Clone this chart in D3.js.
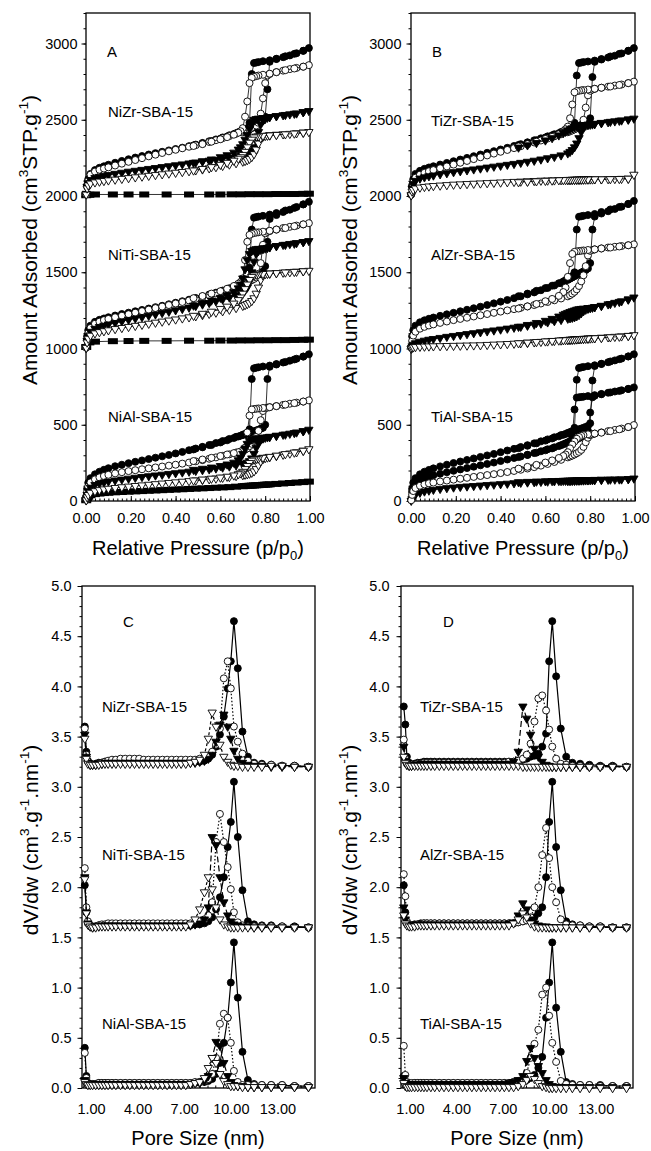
<!DOCTYPE html>
<html>
<head>
<meta charset="utf-8">
<script src="https://cdn.jsdelivr.net/npm/d3@7"></script>
<style>
    body { margin: 0; background: #fff; }
    text { font-family: "Liberation Sans", Arial, sans-serif; fill: #000; }
</style>
</head>
<body>
<div id="chart"></div>
<script>

// ---------- isotherm grids (relative pressure p/p0) ----------
const pAds = [0.001, 0.005, 0.01, 0.02, 0.04, 0.06, 0.08, 0.10, 0.13, 0.16, 0.19, 0.22, 0.25, 0.28, 0.31, 0.34, 0.37, 0.40,
    0.43, 0.46, 0.49, 0.52, 0.55, 0.58, 0.61, 0.64, 0.67,
    0.70, 0.71, 0.72, 0.73, 0.74, 0.75, 0.76, 0.77, 0.78, 0.79, 0.80, 0.81, 0.82,
    0.85, 0.88, 0.91, 0.94, 0.97, 0.995];
const pDes = [0.97, 0.93, 0.89, 0.85, 0.82, 0.79, 0.77, 0.76, 0.75, 0.74, 0.73, 0.72, 0.71, 0.70, 0.69, 0.68, 0.66, 0.63,
    0.60, 0.56, 0.52, 0.48];
const pSq = [0.001, 0.015, 0.04, 0.12, 0.19, 0.26, 0.36, 0.46, 0.55, 0.60, 0.65, 0.69, 0.73, 0.77, 0.81, 0.85, 0.89, 0.93, 0.97, 0.995];

const isoXTicks = [0, 0.2, 0.4, 0.6, 0.8, 1.0];
const isoYTicks = [0, 500, 1000, 1500, 2000, 2500, 3000];

// ---------- panel A (amount adsorbed, stacked) ----------
// NiZr-SBA-15
const nizrFcAds = [2010, 2070, 2110, 2145, 2170, 2185, 2195, 2205, 2218, 2230, 2241, 2252, 2262, 2272, 2281, 2290, 2299, 2308,
    2317, 2327, 2337, 2348, 2359, 2371, 2384, 2398, 2412,
    2428, 2434, 2440, 2447, 2454, 2461, 2468, 2476, 2484, 2494, 2520, 2700, 2880,
    2898, 2910, 2922, 2936, 2952, 2970];
const nizrFcDes = [2952, 2932, 2916, 2900, 2890, 2884, 2878, 2875, 2872, 2800, 2480, 2445, 2438, 2430, 2424, 2418, 2406, 2390,
    2376, 2360, 2345, 2332];
const nizrOcAds = [2010, 2060, 2100, 2140, 2160, 2172, 2180, 2188, 2200, 2212, 2224, 2236, 2248, 2260, 2271, 2282, 2293, 2303,
    2313, 2323, 2333, 2343, 2354, 2366, 2379, 2393, 2408,
    2418, 2424, 2430, 2437, 2444, 2452, 2462, 2480, 2540, 2640, 2740, 2790, 2800,
    2812, 2822, 2832, 2840, 2848, 2858];
const nizrOcDes = [2848, 2836, 2825, 2812, 2802, 2795, 2790, 2786, 2782, 2775, 2740, 2620, 2520, 2445, 2425, 2415, 2402, 2386,
    2372, 2356, 2340, 2328];
const nizrFtAds = [2015, 2060, 2085, 2105, 2118, 2126, 2132, 2138, 2146, 2153, 2160, 2166, 2172, 2178, 2184, 2190, 2196, 2202,
    2208, 2214, 2220, 2226, 2232, 2238, 2245, 2253, 2262,
    2272, 2276, 2282, 2290, 2300, 2320, 2360, 2420, 2470, 2500, 2510, 2514, 2518,
    2524, 2530, 2536, 2542, 2550, 2558];
const nizrFtDes = [2550, 2540, 2532, 2524, 2518, 2512, 2508, 2505, 2500, 2470, 2440, 2400, 2370, 2340, 2320, 2305, 2285, 2268,
    2255, 2240, 2228, 2218];
const nizrOtAds = [2010, 2050, 2070, 2082, 2090, 2095, 2099, 2103, 2108, 2113, 2118, 2123, 2128, 2133, 2138, 2143, 2148, 2153,
    2158, 2163, 2169, 2175, 2182, 2190, 2198, 2207, 2216,
    2226, 2230, 2236, 2244, 2256, 2275, 2305, 2345, 2380, 2390, 2394, 2396, 2398,
    2402, 2405, 2408, 2412, 2416, 2420];
const nizrOtDes = [2416, 2410, 2405, 2401, 2398, 2395, 2392, 2390, 2385, 2370, 2350, 2320, 2290, 2270, 2255, 2245, 2232, 2218,
    2205, 2190, 2178, 2168];
const nizrFs = [2005, 2008, 2010, 2010, 2010, 2010, 2010, 2010, 2010, 2010, 2011, 2011, 2012, 2012, 2012, 2013, 2013, 2013, 2014, 2015];

// NiTi-SBA-15
const nitiFcAds = [1010, 1080, 1120, 1150, 1175, 1188, 1197, 1205, 1216, 1226, 1235, 1244, 1253, 1262, 1271, 1280, 1290, 1300,
    1310, 1320, 1331, 1342, 1354, 1366, 1380, 1395, 1412,
    1430, 1436, 1442, 1449, 1456, 1463, 1471, 1480, 1490, 1505, 1540, 1700, 1850,
    1875, 1895, 1910, 1928, 1945, 1962];
const nitiFcDes = [1945, 1922, 1905, 1888, 1878, 1870, 1865, 1862, 1858, 1780, 1530, 1450, 1440, 1432, 1425, 1418, 1405, 1388,
    1372, 1356, 1340, 1325];
const nitiOcAds = [1005, 1060, 1100, 1135, 1162, 1176, 1186, 1194, 1205, 1215, 1225, 1235, 1245, 1255, 1265, 1275, 1285, 1295,
    1305, 1315, 1326, 1337, 1349, 1361, 1375, 1390, 1406,
    1420, 1426, 1432, 1440, 1448, 1456, 1466, 1490, 1560, 1680, 1755, 1765, 1770,
    1780, 1790, 1798, 1806, 1814, 1822];
const nitiOcDes = [1814, 1802, 1790, 1780, 1772, 1766, 1762, 1760, 1757, 1752, 1745, 1700, 1580, 1460, 1435, 1425, 1410, 1392,
    1376, 1360, 1344, 1330];
const nitiFtAds = [1005, 1050, 1085, 1110, 1130, 1142, 1150, 1158, 1168, 1178, 1188, 1197, 1206, 1215, 1224, 1233, 1242, 1251,
    1260, 1269, 1279, 1289, 1299, 1310, 1322, 1335, 1350,
    1368, 1380, 1400, 1440, 1500, 1570, 1620, 1640, 1648, 1652, 1656, 1660, 1664,
    1672, 1680, 1686, 1692, 1698, 1705];
const nitiFtDes = [1698, 1688, 1680, 1672, 1664, 1658, 1654, 1652, 1648, 1640, 1620, 1580, 1520, 1460, 1420, 1395, 1370, 1350,
    1333, 1315, 1298, 1282];
const nitiOtAds = [1005, 1040, 1065, 1085, 1100, 1108, 1114, 1120, 1128, 1135, 1142, 1149, 1156, 1163, 1170, 1177, 1184, 1191,
    1198, 1205, 1212, 1220, 1228, 1236, 1245, 1255, 1266,
    1280, 1285, 1292, 1300, 1312, 1330, 1360, 1400, 1450, 1480, 1488, 1490, 1492,
    1495, 1498, 1501, 1504, 1507, 1510];
const nitiOtDes = [1507, 1503, 1499, 1495, 1492, 1489, 1486, 1484, 1480, 1470, 1450, 1420, 1390, 1360, 1335, 1318, 1295, 1275,
    1260, 1242, 1228, 1215];
const nitiFs = [1010, 1040, 1045, 1048, 1049, 1050, 1050, 1051, 1051, 1052, 1052, 1053, 1053, 1054, 1054, 1055, 1055, 1056, 1057, 1058];

// NiAl-SBA-15
const nialFcAds = [10, 80, 120, 150, 175, 192, 205, 215, 228, 238, 248, 257, 266, 275, 284, 293, 302, 312,
    322, 333, 344, 355, 367, 380, 393, 407, 421,
    433, 438, 443, 448, 453, 458, 463, 468, 474, 480, 500, 800, 880,
    895, 908, 920, 933, 947, 962];
const nialFcDes = [947, 928, 912, 898, 888, 882, 877, 874, 870, 800, 470, 445, 440, 434, 428, 423, 413, 398, 384, 367, 352, 338];
const nialOcAds = [10, 60, 95, 122, 142, 155, 164, 172, 181, 189, 196, 202, 208, 214, 220, 226, 232, 238,
    245, 252, 260, 268, 277, 286, 296, 306, 318,
    330, 336, 345, 360, 375, 395, 420, 460, 530, 590, 608, 612, 615,
    622, 630, 638, 645, 652, 660];
const nialOcDes = [652, 642, 632, 622, 615, 610, 607, 605, 603, 600, 560, 450, 350, 330, 325, 320, 314, 305, 295, 283, 272, 262];
const nialFtAds = [5, 40, 65, 88, 105, 115, 122, 128, 135, 141, 147, 153, 158, 163, 168, 173, 178, 183,
    188, 193, 198, 203, 208, 214, 220, 227, 234,
    242, 246, 252, 262, 280, 310, 350, 380, 400, 410, 415, 418, 421,
    428, 435, 442, 450, 458, 468];
const nialFtDes = [458, 446, 436, 428, 421, 416, 412, 410, 408, 404, 395, 375, 345, 310, 285, 268, 252, 240, 230, 220, 212, 205];
const nialOtAds = [5, 25, 40, 55, 65, 72, 77, 81, 86, 91, 95, 99, 103, 107, 111, 115, 119, 123,
    127, 131, 135, 139, 143, 148, 153, 158, 164,
    170, 173, 176, 180, 186, 195, 210, 235, 260, 275, 282, 286, 289,
    296, 304, 312, 320, 330, 340];
const nialOtDes = [330, 318, 308, 298, 290, 284, 280, 276, 272, 265, 250, 230, 210, 192, 182, 176, 168, 160, 154, 147, 141, 135];
const nialFs = [5, 18, 28, 38, 45, 49, 52, 54, 57, 59, 61, 63, 65, 67, 69, 71, 73, 75,
    77, 79, 81, 83, 85, 87, 89, 91, 94,
    97, 98, 99, 100, 101, 102, 103, 104, 105, 106, 107, 108, 109,
    112, 115, 118, 121, 124, 127];

// ---------- panel B ----------
// TiZr-SBA-15
const tizrFcAds = [2010, 2070, 2110, 2145, 2165, 2178, 2187, 2195, 2206, 2217, 2228, 2239, 2250, 2261, 2272, 2283, 2294, 2305,
    2316, 2328, 2340, 2352, 2365, 2378, 2391, 2405, 2420,
    2432, 2437, 2442, 2448, 2454, 2460, 2466, 2472, 2478, 2485, 2510, 2780, 2880,
    2895, 2908, 2920, 2935, 2952, 2970];
const tizrFcDes = [2952, 2932, 2915, 2898, 2888, 2882, 2878, 2875, 2872, 2790, 2480, 2450, 2443, 2436, 2430, 2424, 2412, 2398,
    2384, 2366, 2350, 2335];
const tizrOcAds = [2010, 2055, 2090, 2120, 2140, 2152, 2162, 2170, 2182, 2194, 2206, 2218, 2230, 2242, 2254, 2266, 2278, 2290,
    2302, 2314, 2326, 2338, 2351, 2364, 2377, 2391, 2405,
    2418, 2424, 2430, 2437, 2444, 2452, 2465, 2500, 2580, 2660, 2690, 2698, 2703,
    2710, 2717, 2724, 2731, 2740, 2750];
const tizrOcDes = [2740, 2728, 2718, 2710, 2703, 2698, 2695, 2693, 2690, 2688, 2680, 2600, 2510, 2455, 2438, 2425, 2405, 2388,
    2374, 2356, 2340, 2325];
const tizrFtAds = [2005, 2050, 2080, 2100, 2115, 2123, 2130, 2135, 2143, 2150, 2157, 2163, 2169, 2175, 2181, 2187, 2193, 2199,
    2205, 2211, 2218, 2225, 2232, 2240, 2248, 2257, 2267,
    2280, 2290, 2302, 2320, 2345, 2380, 2420, 2450, 2462, 2466, 2468, 2470, 2472,
    2478, 2484, 2490, 2496, 2502, 2508];
const tizrFtDes = [2502, 2494, 2487, 2480, 2474, 2469, 2466, 2464, 2462, 2458, 2452, 2445, 2438, 2430, 2422, 2414, 2398, 2380,
    2365, 2348, 2333, 2318];
const tizrOtAds = [2005, 2030, 2040, 2050, 2056, 2060, 2063, 2066, 2069, 2072, 2075, 2077, 2079, 2081, 2083, 2085, 2087, 2089,
    2091, 2093, 2095, 2097, 2099, 2101, 2102, 2103, 2104,
    2105, 2105, 2106, 2106, 2107, 2107, 2108, 2108, 2108, 2109, 2109, 2109, 2110,
    2110, 2111, 2112, 2113, 2114, 2140];
const tizrOtDes = [2114, 2112, 2111, 2110, 2110, 2109, 2109, 2108, 2108, 2108, 2107, 2107, 2106, 2106, 2105, 2105, 2104, 2102,
    2100, 2097, 2094, 2091];

// AlZr-SBA-15
const alzrFcAds = [1010, 1080, 1120, 1150, 1172, 1185, 1195, 1203, 1214, 1224, 1234, 1244, 1254, 1264, 1274, 1285, 1296, 1307,
    1318, 1330, 1342, 1355, 1368, 1382, 1397, 1413, 1430,
    1450, 1458, 1466, 1474, 1482, 1490, 1498, 1506, 1514, 1525, 1560, 1780, 1865,
    1885, 1900, 1915, 1930, 1948, 1968];
const alzrFcDes = [1948, 1928, 1912, 1895, 1882, 1875, 1870, 1867, 1864, 1780, 1500, 1475, 1465, 1455, 1448, 1440, 1428, 1412,
    1396, 1378, 1360, 1343];
const alzrOcAds = [1005, 1050, 1085, 1110, 1130, 1142, 1151, 1158, 1168, 1177, 1186, 1194, 1202, 1210, 1218, 1226, 1234, 1242,
    1250, 1258, 1267, 1276, 1285, 1295, 1305, 1316, 1328,
    1342, 1350, 1360, 1372, 1388, 1410, 1440, 1480, 1540, 1610, 1640, 1646, 1650,
    1656, 1662, 1667, 1672, 1677, 1683];
const alzrOcDes = [1677, 1669, 1662, 1656, 1650, 1646, 1643, 1641, 1639, 1637, 1634, 1620, 1560, 1470, 1400, 1370, 1345, 1325,
    1310, 1292, 1276, 1262];
const alzrFtAds = [1000, 1015, 1025, 1035, 1045, 1052, 1058, 1063, 1070, 1077, 1083, 1089, 1095, 1101, 1107, 1113, 1119, 1125,
    1131, 1137, 1143, 1150, 1157, 1164, 1172, 1180, 1188,
    1196, 1199, 1202, 1206, 1212, 1220, 1232, 1245, 1255, 1261, 1265, 1268, 1271,
    1280, 1290, 1300, 1310, 1322, 1335];
const alzrFtDes = [1322, 1306, 1292, 1280, 1272, 1266, 1262, 1260, 1258, 1255, 1250, 1245, 1240, 1234, 1228, 1222, 1210, 1195,
    1182, 1168, 1155, 1143];
const alzrOtAds = [1000, 1005, 1008, 1010, 1012, 1013, 1014, 1015, 1016, 1017, 1018, 1019, 1020, 1021, 1022, 1024, 1026, 1028,
    1030, 1032, 1035, 1038, 1041, 1044, 1047, 1050, 1053,
    1056, 1057, 1058, 1059, 1060, 1061, 1062, 1063, 1064, 1065, 1066, 1067, 1068,
    1071, 1074, 1077, 1080, 1083, 1088];
const alzrOtDes = [1083, 1078, 1074, 1070, 1068, 1066, 1064, 1063, 1062, 1061, 1060, 1059, 1058, 1057, 1056, 1055, 1053, 1050,
    1047, 1043, 1039, 1035];

// TiAl-SBA-15
const tialFcAds = [10, 80, 120, 150, 175, 192, 204, 214, 227, 238, 249, 259, 269, 279, 289, 299, 309, 320,
    331, 342, 354, 366, 378, 391, 404, 418, 432,
    445, 450, 455, 460, 465, 470, 475, 480, 486, 492, 510, 790, 885,
    898, 910, 922, 934, 948, 962];
const tialFcDes = [948, 930, 915, 900, 890, 884, 879, 876, 872, 795, 480, 458, 452, 446, 440, 434, 424, 410, 396, 378, 362, 346];
const tialF2Ads = [10, 60, 95, 120, 140, 152, 161, 169, 179, 189, 198, 207, 216, 225, 234, 243, 252, 262,
    272, 282, 292, 303, 314, 326, 339, 352, 366,
    380, 386, 392, 398, 405, 412, 420, 428, 438, 460, 580, 680, 690,
    700, 710, 718, 726, 735, 745];
const tialF2Des = [735, 722, 712, 702, 694, 688, 684, 682, 680, 678, 600, 420, 392, 385, 378, 372, 360, 345, 332, 317, 302, 288];
const tialOcAds = [5, 40, 65, 85, 100, 109, 116, 121, 128, 134, 140, 146, 152, 158, 164, 170, 176, 183,
    190, 197, 205, 213, 222, 232, 243, 256, 270,
    286, 292, 298, 305, 313, 322, 335, 355, 385, 415, 432, 438, 442,
    450, 458, 466, 475, 485, 498];
const tialOcDes = [485, 470, 458, 448, 442, 437, 432, 428, 420, 408, 390, 370, 345, 320, 305, 295, 282, 266, 252, 237, 224, 212];
const tialFtAds = [2, 15, 28, 42, 55, 63, 69, 74, 80, 85, 89, 93, 96, 99, 102, 105, 108, 111,
    114, 117, 120, 122, 124, 126, 128, 130, 131,
    132, 132, 133, 133, 134, 134, 135, 135, 136, 136, 137, 137, 138,
    139, 140, 141, 142, 144, 148];
const tialFtDes = [144, 142, 141, 140, 139, 138, 137, 137, 136, 136, 135, 135, 134, 134, 133, 133, 132, 131, 130, 128, 126, 124];

// ---------- pore size distributions (dV/dw, stacked) ----------
const wGrid = [0.6, 0.7, 0.8, 0.95, 1.1, 1.3, 1.5, 1.7, 1.9, 2.1,
    2.35, 2.6, 2.9, 3.2, 3.5, 3.8, 4.1, 4.4, 4.7, 5.0,
    5.3, 5.6, 5.9, 6.2, 6.5, 6.8, 7.1, 7.4, 7.7, 8.0,
    8.3, 8.55, 8.8, 9.05, 9.3, 9.55, 9.8, 10.0, 10.2, 10.45,
    10.75, 11.1, 11.5, 12.0, 12.6, 13.3, 14.1, 15.0];
const psdXTicks = [1, 4, 7, 10, 13];
const psdYTicks = [0, 0.5, 1.0, 1.5, 2.0, 2.5, 3.0, 3.5, 4.0, 4.5, 5.0];

// panel C
const psdNizrFc = [3.60, 3.35, 3.26, 3.23, 3.22, 3.23, 3.24, 3.24, 3.25, 3.25,
    3.25, 3.25, 3.25, 3.25, 3.25, 3.25, 3.25, 3.25, 3.25, 3.25,
    3.25, 3.25, 3.25, 3.25, 3.25, 3.25, 3.25, 3.25, 3.25, 3.25,
    3.26, 3.28, 3.32, 3.40, 3.52, 3.70, 3.98, 4.25, 4.65, 4.18,
    3.55, 3.30, 3.24, 3.23, 3.22, 3.21, 3.21, 3.20];
const psdNizrOc = [3.58, 3.32, 3.25, 3.23, 3.22, 3.22, 3.23, 3.24, 3.25, 3.26,
    3.27, 3.27, 3.28, 3.28, 3.28, 3.28, 3.28, 3.27, 3.27, 3.27,
    3.27, 3.27, 3.27, 3.27, 3.27, 3.27, 3.27, 3.27, 3.27, 3.28,
    3.29, 3.31, 3.35, 3.42, 3.58, 4.08, 4.25, 3.98, 3.60, 3.45,
    3.33, 3.26, 3.23, 3.22, 3.22, 3.21, 3.21, 3.20];
const psdNizrFt = [3.52, 3.30, 3.24, 3.22, 3.22, 3.22, 3.23, 3.23, 3.24, 3.24,
    3.24, 3.24, 3.24, 3.24, 3.24, 3.24, 3.24, 3.24, 3.24, 3.24,
    3.24, 3.24, 3.24, 3.24, 3.24, 3.24, 3.24, 3.24, 3.24, 3.25,
    3.26, 3.28, 3.32, 3.45, 3.62, 3.72, 3.60, 3.48, 3.36, 3.28,
    3.24, 3.22, 3.21, 3.21, 3.20, 3.20, 3.20, 3.20];
const psdNizrOt = [3.48, 3.28, 3.23, 3.22, 3.22, 3.22, 3.22, 3.23, 3.23, 3.23,
    3.23, 3.23, 3.23, 3.23, 3.23, 3.23, 3.23, 3.23, 3.23, 3.23,
    3.23, 3.23, 3.23, 3.23, 3.23, 3.23, 3.23, 3.24, 3.25, 3.27,
    3.32, 3.48, 3.74, 3.60, 3.42, 3.30, 3.25, 3.22, 3.21, 3.21,
    3.20, 3.20, 3.20, 3.20, 3.21, 3.21, 3.20, 3.20];
const psdNitiFc = [2.02, 1.75, 1.64, 1.61, 1.60, 1.61, 1.62, 1.62, 1.62, 1.62,
    1.62, 1.62, 1.62, 1.62, 1.62, 1.62, 1.62, 1.62, 1.62, 1.62,
    1.62, 1.62, 1.62, 1.62, 1.62, 1.62, 1.62, 1.62, 1.63, 1.63,
    1.64, 1.66, 1.70, 1.78, 1.90, 2.10, 2.40, 2.65, 3.05, 2.50,
    1.97, 1.66, 1.63, 1.62, 1.62, 1.61, 1.61, 1.60];
const psdNitiOc = [2.19, 1.80, 1.66, 1.62, 1.61, 1.61, 1.62, 1.63, 1.63, 1.64,
    1.64, 1.64, 1.64, 1.64, 1.64, 1.64, 1.64, 1.64, 1.64, 1.64,
    1.64, 1.64, 1.64, 1.64, 1.64, 1.64, 1.64, 1.64, 1.65, 1.66,
    1.68, 1.72, 1.85, 2.45, 2.73, 2.45, 2.20, 1.98, 1.75, 1.65,
    1.62, 1.61, 1.61, 1.61, 1.61, 1.61, 1.60, 1.60];
const psdNitiFt = [2.10, 1.75, 1.64, 1.61, 1.60, 1.61, 1.61, 1.62, 1.62, 1.62,
    1.62, 1.62, 1.62, 1.62, 1.62, 1.62, 1.62, 1.62, 1.62, 1.62,
    1.62, 1.62, 1.62, 1.62, 1.62, 1.62, 1.62, 1.62, 1.63, 1.64,
    1.68, 1.80, 2.50, 2.42, 2.10, 1.85, 1.72, 1.66, 1.63, 1.62,
    1.61, 1.61, 1.60, 1.60, 1.60, 1.60, 1.60, 1.60];
const psdNitiOt = [2.08, 1.74, 1.63, 1.61, 1.60, 1.60, 1.61, 1.61, 1.61, 1.61,
    1.61, 1.61, 1.61, 1.61, 1.61, 1.61, 1.61, 1.61, 1.61, 1.61,
    1.61, 1.61, 1.61, 1.61, 1.61, 1.61, 1.61, 1.63, 1.68, 1.78,
    1.95, 2.10, 1.98, 1.80, 1.68, 1.63, 1.61, 1.60, 1.60, 1.60,
    1.60, 1.60, 1.60, 1.60, 1.60, 1.60, 1.60, 1.60];
const psdNialFc = [0.40, 0.12, 0.05, 0.04, 0.04, 0.04, 0.05, 0.05, 0.05, 0.05,
    0.05, 0.05, 0.05, 0.05, 0.05, 0.05, 0.05, 0.05, 0.05, 0.05,
    0.05, 0.05, 0.05, 0.05, 0.05, 0.05, 0.05, 0.05, 0.05, 0.06,
    0.06, 0.07, 0.09, 0.14, 0.25, 0.45, 0.70, 1.05, 1.45, 0.90,
    0.36, 0.08, 0.04, 0.03, 0.03, 0.03, 0.02, 0.02];
const psdNialOc = [0.35, 0.10, 0.05, 0.04, 0.04, 0.04, 0.05, 0.05, 0.05, 0.05,
    0.05, 0.05, 0.05, 0.05, 0.05, 0.05, 0.05, 0.05, 0.05, 0.05,
    0.05, 0.05, 0.05, 0.05, 0.05, 0.05, 0.05, 0.05, 0.06, 0.06,
    0.07, 0.09, 0.14, 0.30, 0.64, 0.74, 0.70, 0.45, 0.17, 0.06,
    0.03, 0.03, 0.03, 0.03, 0.03, 0.03, 0.02, 0.02];
const psdNialFt = [0.08, 0.05, 0.04, 0.04, 0.04, 0.04, 0.04, 0.04, 0.04, 0.04,
    0.04, 0.04, 0.04, 0.04, 0.04, 0.04, 0.04, 0.04, 0.04, 0.04,
    0.04, 0.04, 0.04, 0.04, 0.04, 0.04, 0.04, 0.04, 0.05, 0.05,
    0.07, 0.12, 0.30, 0.46, 0.42, 0.25, 0.12, 0.06, 0.03, 0.02,
    0.02, 0.01, 0.01, 0.01, 0.01, 0.01, 0.01, 0.01];
const psdNialOt = [0.06, 0.04, 0.03, 0.03, 0.03, 0.03, 0.03, 0.03, 0.03, 0.03,
    0.03, 0.03, 0.03, 0.03, 0.03, 0.03, 0.03, 0.03, 0.03, 0.03,
    0.03, 0.03, 0.03, 0.03, 0.03, 0.03, 0.03, 0.04, 0.05, 0.06,
    0.10, 0.20, 0.30, 0.25, 0.14, 0.07, 0.04, 0.02, 0.02, 0.02,
    0.01, 0.01, 0.01, 0.01, 0.01, 0.01, 0.01, 0.01];

// panel D
const psdTizrFc = [3.80, 3.62, 3.30, 3.24, 3.22, 3.23, 3.24, 3.24, 3.25, 3.25,
    3.25, 3.25, 3.25, 3.25, 3.25, 3.25, 3.25, 3.25, 3.25, 3.25,
    3.25, 3.25, 3.25, 3.25, 3.25, 3.25, 3.25, 3.25, 3.25, 3.26,
    3.27, 3.28, 3.30, 3.31, 3.33, 3.40, 3.53, 4.25, 4.65, 4.10,
    3.58, 3.30, 3.24, 3.23, 3.22, 3.21, 3.21, 3.20];
const psdTizrOc = [3.47, 3.28, 3.23, 3.22, 3.22, 3.22, 3.23, 3.23, 3.24, 3.24,
    3.24, 3.24, 3.24, 3.24, 3.24, 3.24, 3.24, 3.24, 3.24, 3.24,
    3.24, 3.24, 3.24, 3.24, 3.24, 3.24, 3.24, 3.25, 3.25, 3.26,
    3.28, 3.32, 3.43, 3.65, 3.88, 3.91, 3.76, 3.57, 3.40, 3.28,
    3.23, 3.22, 3.21, 3.21, 3.20, 3.20, 3.20, 3.20];
const psdTizrFt = [3.40, 3.26, 3.22, 3.21, 3.21, 3.22, 3.22, 3.23, 3.23, 3.23,
    3.23, 3.23, 3.23, 3.23, 3.23, 3.23, 3.23, 3.23, 3.23, 3.23,
    3.23, 3.23, 3.23, 3.23, 3.23, 3.23, 3.23, 3.23, 3.25, 3.35,
    3.80, 3.68, 3.52, 3.38, 3.30, 3.25, 3.22, 3.21, 3.20, 3.20,
    3.20, 3.20, 3.20, 3.20, 3.20, 3.20, 3.20, 3.20];
const psdTizrOt = [3.30, 3.24, 3.22, 3.21, 3.21, 3.21, 3.21, 3.21, 3.21, 3.21,
    3.21, 3.21, 3.21, 3.21, 3.21, 3.21, 3.21, 3.21, 3.21, 3.21,
    3.21, 3.21, 3.21, 3.21, 3.21, 3.21, 3.21, 3.21, 3.21, 3.21,
    3.20, 3.20, 3.20, 3.20, 3.20, 3.20, 3.20, 3.20, 3.20, 3.20,
    3.20, 3.20, 3.20, 3.20, 3.20, 3.20, 3.20, 3.20];
const psdAlzrFc = [2.02, 1.75, 1.64, 1.62, 1.62, 1.63, 1.63, 1.64, 1.64, 1.64,
    1.64, 1.64, 1.64, 1.64, 1.64, 1.64, 1.64, 1.64, 1.64, 1.64,
    1.64, 1.64, 1.64, 1.64, 1.64, 1.64, 1.64, 1.64, 1.64, 1.65,
    1.66, 1.67, 1.68, 1.70, 1.74, 1.80, 2.10, 2.65, 3.05, 2.40,
    1.97, 1.66, 1.63, 1.62, 1.61, 1.61, 1.60, 1.60];
const psdAlzrOc = [2.13, 1.91, 1.66, 1.63, 1.62, 1.62, 1.63, 1.63, 1.64, 1.64,
    1.64, 1.64, 1.64, 1.64, 1.64, 1.64, 1.64, 1.64, 1.64, 1.64,
    1.64, 1.64, 1.64, 1.64, 1.64, 1.64, 1.64, 1.64, 1.64, 1.65,
    1.66, 1.67, 1.70, 1.80, 2.00, 2.32, 2.59, 2.29, 2.00, 1.85,
    1.68, 1.63, 1.62, 1.62, 1.61, 1.61, 1.60, 1.60];
const psdAlzrFt = [1.80, 1.68, 1.63, 1.62, 1.62, 1.62, 1.63, 1.63, 1.63, 1.63,
    1.63, 1.63, 1.63, 1.63, 1.63, 1.63, 1.63, 1.63, 1.63, 1.63,
    1.63, 1.63, 1.63, 1.63, 1.63, 1.63, 1.63, 1.64, 1.65, 1.72,
    1.84, 1.78, 1.68, 1.64, 1.62, 1.61, 1.61, 1.60, 1.60, 1.60,
    1.60, 1.60, 1.60, 1.60, 1.60, 1.60, 1.60, 1.60];
const psdAlzrOt = [1.72, 1.64, 1.62, 1.61, 1.61, 1.61, 1.62, 1.62, 1.62, 1.62,
    1.62, 1.62, 1.62, 1.62, 1.62, 1.62, 1.62, 1.62, 1.62, 1.62,
    1.62, 1.62, 1.62, 1.62, 1.62, 1.62, 1.62, 1.62, 1.64, 1.68,
    1.74, 1.70, 1.64, 1.61, 1.60, 1.60, 1.60, 1.60, 1.60, 1.60,
    1.60, 1.60, 1.60, 1.60, 1.60, 1.60, 1.60, 1.60];
const psdTialFc = [0.12, 0.05, 0.04, 0.04, 0.04, 0.05, 0.05, 0.05, 0.05, 0.05,
    0.05, 0.05, 0.05, 0.05, 0.05, 0.05, 0.05, 0.05, 0.05, 0.05,
    0.05, 0.05, 0.05, 0.05, 0.05, 0.05, 0.05, 0.05, 0.06, 0.06,
    0.07, 0.08, 0.10, 0.13, 0.20, 0.31, 0.70, 1.05, 1.45, 0.80,
    0.36, 0.06, 0.04, 0.03, 0.03, 0.03, 0.02, 0.02];
const psdTialOc = [0.42, 0.13, 0.06, 0.05, 0.05, 0.05, 0.05, 0.05, 0.05, 0.05,
    0.05, 0.05, 0.05, 0.05, 0.05, 0.05, 0.05, 0.05, 0.05, 0.05,
    0.05, 0.05, 0.05, 0.05, 0.05, 0.05, 0.05, 0.05, 0.06, 0.07,
    0.09, 0.15, 0.30, 0.44, 0.58, 0.93, 1.00, 0.72, 0.45, 0.26,
    0.07, 0.04, 0.03, 0.03, 0.03, 0.02, 0.02, 0.02];
const psdTialFt = [0.10, 0.05, 0.04, 0.04, 0.04, 0.04, 0.04, 0.04, 0.04, 0.04,
    0.04, 0.04, 0.04, 0.04, 0.04, 0.04, 0.04, 0.04, 0.04, 0.04,
    0.04, 0.04, 0.04, 0.04, 0.04, 0.04, 0.04, 0.05, 0.06, 0.08,
    0.12, 0.27, 0.40, 0.30, 0.22, 0.15, 0.08, 0.04, 0.02, 0.01,
    0.01, 0.01, 0.01, 0.01, 0.01, 0.01, 0.01, 0.01];
const psdTialOt = [0.05, 0.02, 0.01, 0.01, 0.01, 0.01, 0.01, 0.01, 0.01, 0.01,
    0.01, 0.01, 0.01, 0.01, 0.01, 0.01, 0.01, 0.01, 0.01, 0.01,
    0.01, 0.01, 0.01, 0.01, 0.01, 0.01, 0.01, 0.01, 0.01, 0.02,
    0.04, 0.08, 0.12, 0.09, 0.05, 0.02, 0.01, 0.00, 0.00, 0.00,
    0.00, 0.00, 0.00, 0.00, 0.00, 0.00, 0.00, 0.00];

// ---------- group tables built from the arrays above ----------
// kinds: fc filled circle, oc open circle, ft filled down-triangle, ot open down-triangle, fs filled square
const groupsA = [
    {label: "NiZr-SBA-15", series: [
        {kind: "fs", branches: [[pSq, nizrFs]]},
        {kind: "fc", branches: [[pAds, nizrFcAds], [pDes, nizrFcDes]]},
        {kind: "oc", branches: [[pAds, nizrOcAds], [pDes, nizrOcDes]]},
        {kind: "ft", branches: [[pAds, nizrFtAds], [pDes, nizrFtDes]]},
        {kind: "ot", branches: [[pAds, nizrOtAds], [pDes, nizrOtDes]]}]},
    {label: "NiTi-SBA-15", series: [
        {kind: "fs", branches: [[pSq, nitiFs]]},
        {kind: "fc", branches: [[pAds, nitiFcAds], [pDes, nitiFcDes]]},
        {kind: "oc", branches: [[pAds, nitiOcAds], [pDes, nitiOcDes]]},
        {kind: "ft", branches: [[pAds, nitiFtAds], [pDes, nitiFtDes]]},
        {kind: "ot", branches: [[pAds, nitiOtAds], [pDes, nitiOtDes]]}]},
    {label: "NiAl-SBA-15", series: [
        {kind: "fs", branches: [[pAds, nialFs]]},
        {kind: "fc", branches: [[pAds, nialFcAds], [pDes, nialFcDes]]},
        {kind: "oc", branches: [[pAds, nialOcAds], [pDes, nialOcDes]]},
        {kind: "ft", branches: [[pAds, nialFtAds], [pDes, nialFtDes]]},
        {kind: "ot", branches: [[pAds, nialOtAds], [pDes, nialOtDes]]}]}
];
const groupsB = [
    {label: "TiZr-SBA-15", series: [
        {kind: "fc", branches: [[pAds, tizrFcAds], [pDes, tizrFcDes]]},
        {kind: "oc", branches: [[pAds, tizrOcAds], [pDes, tizrOcDes]]},
        {kind: "ft", branches: [[pAds, tizrFtAds], [pDes, tizrFtDes]]},
        {kind: "ot", branches: [[pAds, tizrOtAds], [pDes, tizrOtDes]]}]},
    {label: "AlZr-SBA-15", series: [
        {kind: "fc", branches: [[pAds, alzrFcAds], [pDes, alzrFcDes]]},
        {kind: "oc", branches: [[pAds, alzrOcAds], [pDes, alzrOcDes]]},
        {kind: "ft", branches: [[pAds, alzrFtAds], [pDes, alzrFtDes]]},
        {kind: "ot", branches: [[pAds, alzrOtAds], [pDes, alzrOtDes]]}]},
    {label: "TiAl-SBA-15", series: [
        {kind: "ft", branches: [[pAds, tialFtAds], [pDes, tialFtDes]]},
        {kind: "fc", branches: [[pAds, tialFcAds], [pDes, tialFcDes]]},
        {kind: "fc", branches: [[pAds, tialF2Ads], [pDes, tialF2Des]]},
        {kind: "oc", branches: [[pAds, tialOcAds], [pDes, tialOcDes]]}]}
];
const groupsC = [
    {label: "NiZr-SBA-15", series: [
        {kind: "fc", branches: [[wGrid, psdNizrFc]]}, {kind: "oc", branches: [[wGrid, psdNizrOc]]},
        {kind: "ft", branches: [[wGrid, psdNizrFt]]}, {kind: "ot", branches: [[wGrid, psdNizrOt]]}]},
    {label: "NiTi-SBA-15", series: [
        {kind: "fc", branches: [[wGrid, psdNitiFc]]}, {kind: "oc", branches: [[wGrid, psdNitiOc]]},
        {kind: "ft", branches: [[wGrid, psdNitiFt]]}, {kind: "ot", branches: [[wGrid, psdNitiOt]]}]},
    {label: "NiAl-SBA-15", series: [
        {kind: "fc", branches: [[wGrid, psdNialFc]]}, {kind: "oc", branches: [[wGrid, psdNialOc]]},
        {kind: "ft", branches: [[wGrid, psdNialFt]]}, {kind: "ot", branches: [[wGrid, psdNialOt]]}]}
];
const groupsD = [
    {label: "TiZr-SBA-15", series: [
        {kind: "fc", branches: [[wGrid, psdTizrFc]]}, {kind: "oc", branches: [[wGrid, psdTizrOc]]},
        {kind: "ft", branches: [[wGrid, psdTizrFt]]}, {kind: "ot", branches: [[wGrid, psdTizrOt]]}]},
    {label: "AlZr-SBA-15", series: [
        {kind: "fc", branches: [[wGrid, psdAlzrFc]]}, {kind: "oc", branches: [[wGrid, psdAlzrOc]]},
        {kind: "ft", branches: [[wGrid, psdAlzrFt]]}, {kind: "ot", branches: [[wGrid, psdAlzrOt]]}]},
    {label: "TiAl-SBA-15", series: [
        {kind: "fc", branches: [[wGrid, psdTialFc]]}, {kind: "oc", branches: [[wGrid, psdTialOc]]},
        {kind: "ft", branches: [[wGrid, psdTialFt]]}, {kind: "ot", branches: [[wGrid, psdTialOt]]}]}
];

// axis titles (text, shift: -1 superscript, 1 subscript)
const isoXTitle = [["Relative Pressure (p/p", 0], ["0", 1], [")", 0]];
const isoYTitle = [["Amount Adsorbed (cm", 0], ["3", -1], ["STP.g", 0], ["-1", -1], [")", 0]];
const psdXTitle = [["Pore Size (nm)", 0]];
const psdYTitle = [["dV/dw (cm", 0], ["3", -1], [".g", 0], ["-1", -1], [".nm", 0], ["-1", -1], [")", 0]];


class StackedPanel {

    constructor(parentSvg, layout, groups) {
        this.parentSvg = parentSvg;
        this.layout = layout;
        this.groups = groups;

        this.initVis();
    }

    initVis() {
        let vis = this;
        let L = vis.layout;

        vis.g = vis.parentSvg.append("g").attr("class", "panel-" + L.letter);

        // scales
        vis.x = d3.scaleLinear().domain(L.xDomain).range([L.left, L.right]);
        vis.y = d3.scaleLinear().domain(L.yDomain).range([L.bottom, L.top]);

        // minor ticks
        vis.g.append("g")
            .attr("transform", "translate(" + L.left + ",0)")
            .call(d3.axisLeft(vis.y).tickValues(d3.range(L.yDomain[0], L.yDomain[1] + 1e-6, L.yMinor)).tickSize(2.5).tickFormat(""))
            .call(g => g.select(".domain").remove());
        vis.g.append("g")
            .attr("transform", "translate(0," + L.bottom + ")")
            .call(d3.axisBottom(vis.x).tickValues(d3.range(L.xMinor[0], L.xMinor[1] + 1e-6, L.xMinor[2])).tickSize(-2.5).tickFormat(""))
            .call(g => g.select(".domain").remove());

        // major ticks + labels
        vis.yAxis = d3.axisLeft(vis.y).tickValues(L.yTicks).tickSize(4.5).tickPadding(L.yPad).tickFormat(d3.format(L.yFmt));
        vis.g.append("g")
            .attr("class", "y-axis")
            .attr("transform", "translate(" + L.left + ",0)")
            .call(vis.yAxis)
            .call(g => g.select(".domain").remove())
            .attr("font-size", 14.5);
        vis.xAxis = d3.axisBottom(vis.x).tickValues(L.xTicks).tickSize(-5).tickPadding(L.xPad).tickFormat(d3.format(L.xFmt));
        vis.g.append("g")
            .attr("class", "x-axis")
            .attr("transform", "translate(0," + L.bottom + ")")
            .call(vis.xAxis)
            .call(g => g.select(".domain").remove())
            .attr("font-size", 14.5);

        vis.g.selectAll(".tick line").attr("stroke-width", 1);

        // frame
        vis.g.append("rect")
            .attr("x", L.left)
            .attr("y", L.top)
            .attr("width", L.right - L.left)
            .attr("height", L.bottom - L.top)
            .attr("fill", "none")
            .attr("stroke", "#000")
            .attr("stroke-width", 1.3);

        vis.marks = vis.g.append("g").attr("class", "marks");

        // titles
        StackedPanel.richText(vis.g.append("text")
            .attr("x", L.xTitle[0]).attr("y", L.xTitle[1])
            .attr("text-anchor", "middle"), L.xTitleParts, 20);
        StackedPanel.richText(vis.g.append("text")
            .attr("transform", "translate(" + L.yTitle[0] + "," + L.yTitle[1] + ") rotate(-90)")
            .attr("text-anchor", "middle"), L.yTitleParts, L.yTitleSize);

        vis.updateVis();
    }

    updateVis() {
        let vis = this;
        let L = vis.layout;

        let line = d3.line()
            .x(d => vis.x(d[0]))
            .y(d => vis.y(d[1]));

        vis.groups.forEach(group => {
            group.series.forEach(s => {
                s.branches.forEach(([xs, ys]) => {
                    if (xs.length !== ys.length) {
                        throw new Error(group.label + " " + s.kind + ": " + xs.length + " vs " + ys.length);
                    }
                    let pts = xs.map((v, i) => [v, ys[i]]);
                    vis.marks.append("path")
                        .datum(pts)
                        .attr("d", line)
                        .attr("fill", "none")
                        .attr("stroke", "#000")
                        .attr("stroke-width", L.psd ? 1.2 : 0.8)
                        .attr("stroke-dasharray", L.psd ? StackedPanel.dash(s.kind) : null);
                    StackedPanel.drawMarkers(vis.marks.append("g"), pts.map(d => [vis.x(d[0]), vis.y(d[1])]), s.kind);
                });
            });
        });

        // group labels and panel letter
        vis.g.selectAll("text.group-label")
            .data(vis.groups)
            .enter()
            .append("text")
            .attr("class", "group-label")
            .attr("x", L.labelX)
            .attr("y", (d, i) => L.labelYs[i])
            .attr("font-size", 15)
            .text(d => d.label);
        vis.g.append("text")
            .attr("x", L.letterXY[0])
            .attr("y", L.letterXY[1])
            .attr("font-size", 15)
            .text(L.letter);
    }

    static dash(kind) {
        switch (kind) {
            case "oc": return "1.5,2";
            case "ft": return "6,3";
            case "ot": return "3,2.5";
            default:   return null;
        }
    }

    static drawMarkers(layer, pts, kind) {
        let fill = (kind === "oc" || kind === "ot") ? "#fff" : "#000";
        if (kind === "fc" || kind === "oc") {
            layer.selectAll("circle")
                .data(pts)
                .enter()
                .append("circle")
                .attr("cx", d => d[0])
                .attr("cy", d => d[1])
                .attr("r", 3.5)
                .attr("fill", fill)
                .attr("stroke", "#000")
                .attr("stroke-width", 0.9);
        } else if (kind === "ft" || kind === "ot") {
            let tri = d3.symbol().type(d3.symbolTriangle).size(30);
            layer.selectAll("path")
                .data(pts)
                .enter()
                .append("path")
                .attr("d", tri)
                .attr("transform", d => "translate(" + d[0] + "," + d[1] + ") rotate(180)")
                .attr("fill", fill)
                .attr("stroke", "#000")
                .attr("stroke-width", 0.9);
        } else {
            layer.selectAll("rect")
                .data(pts)
                .enter()
                .append("rect")
                .attr("x", d => d[0] - 5)
                .attr("y", d => d[1] - 3)
                .attr("width", 10)
                .attr("height", 6)
                .attr("fill", "#000");
        }
    }

    static richText(textSel, parts, size) {
        let offset = 0;
        parts.forEach(([str, shift]) => {
            let target = shift < 0 ? -0.42 * size : (shift > 0 ? 0.25 * size : 0);
            textSel.append("tspan")
                .attr("dy", target - offset)
                .attr("font-size", shift ? size * 0.65 : size)
                .text(str);
            offset = target;
        });
    }
}

const svg = d3.select("#chart")
    .append("svg")
    .attr("width", 651)
    .attr("height", 1151);

const layoutA = {letter: "A", left: 86, right: 310, top: 13, bottom: 501, psd: false,
    xDomain: [0, 1], yDomain: [0, 3200], xTicks: isoXTicks, yTicks: isoYTicks,
    xMinor: [0, 1, 0.02], yMinor: 100, xFmt: ".2f", yFmt: "d", xPad: 12, yPad: 4,
    labelX: 108, labelYs: [117, 260, 422], letterXY: [107, 57],
    xTitle: [198, 555], xTitleParts: isoXTitle, yTitle: [37, 240], yTitleParts: isoYTitle, yTitleSize: 21};
const layoutB = Object.assign({}, layoutA, {letter: "B", left: 411, right: 635, yPad: 5,
    labelX: 431, labelYs: [126, 260, 422], letterXY: [432, 57],
    xTitle: [523, 555], yTitle: [357, 240]});
const layoutC = {letter: "C", left: 82, right: 315, top: 586, bottom: 1088, psd: true,
    xDomain: [0.42, 15.42], yDomain: [0, 5], xTicks: psdXTicks, yTicks: psdYTicks,
    xMinor: [0.5, 15, 0.5], yMinor: 0.1, xFmt: ".2f", yFmt: ".1f", xPad: 16, yPad: 6,
    labelX: 102, labelYs: [712, 860, 1029], letterXY: [123, 627],
    xTitle: [198, 1145], xTitleParts: psdXTitle, yTitle: [38, 840], yTitleParts: psdYTitle, yTitleSize: 21};
const layoutD = Object.assign({}, layoutC, {letter: "D", left: 401, right: 633, yPad: 7,
    labelX: 420, letterXY: [443, 627],
    xTitle: [517, 1145], yTitle: [357, 840]});

new StackedPanel(svg, layoutA, groupsA);
new StackedPanel(svg, layoutB, groupsB);
new StackedPanel(svg, layoutC, groupsC);
new StackedPanel(svg, layoutD, groupsD);

</script>
</body>
</html>
